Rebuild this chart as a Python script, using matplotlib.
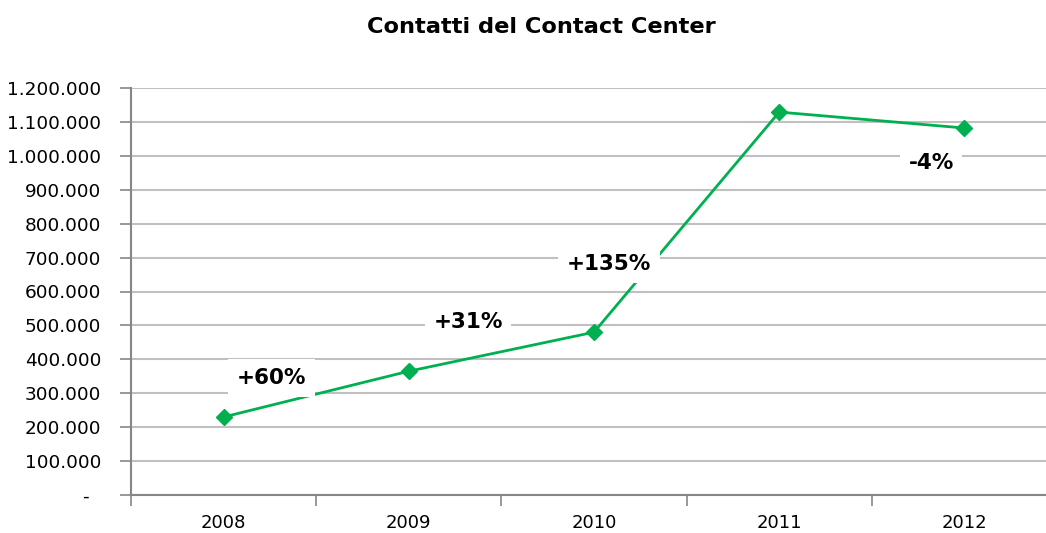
import matplotlib
matplotlib.use("Agg")
import matplotlib.pyplot as plt
from matplotlib.ticker import FuncFormatter, FixedLocator

years = ["2008", "2009", "2010", "2011", "2012"]
contacts = [230000, 365000, 480000, 1129000, 1082000]
growth_labels = ["+60%", "+31%", "+135%", "-4%"]
label_x = [0.26, 1.32, 2.08, 3.82]
label_y = [345000, 510000, 681000, 979000]

W, H = 1046, 533
fig = plt.figure(figsize=(W / 100, H / 100), dpi=100)
ax = fig.add_axes([131 / W, (H - 495) / H, (1057 - 131) / W, (495 - 88) / H])

x = list(range(len(years)))
ax.plot(x, contacts, color="#00B050", lw=2, marker="D", markersize=8.5, zorder=3, clip_on=False)

for lx, ly, t in zip(label_x, label_y, growth_labels):
    ax.text(lx, ly, t, ha="center", va="center", fontsize=15.5, fontweight="bold",
            family="DejaVu Sans", zorder=5,
            bbox=dict(boxstyle="square,pad=0.4", facecolor="white", edgecolor="none"))

ax.set_xlim(-0.5, 4.5)
ax.set_ylim(0, 1200000)
ax.set_yticks(range(0, 1200001, 100000))

def fmt(v, pos):
    if v == 0:
        return "-  "
    return f"{int(v):,}".replace(",", ".")

ax.yaxis.set_major_formatter(FuncFormatter(fmt))
ax.set_xticks(x)
ax.set_xticklabels(years)
ax.xaxis.set_minor_locator(FixedLocator([i - 0.5 for i in range(len(years) + 1)]))
ax.tick_params(axis="x", which="major", length=0, pad=14, labelsize=13)
ax.tick_params(axis="x", which="minor", length=8, width=1.2, color="#868686")
ax.tick_params(axis="y", length=8, width=1.2, color="#868686", labelsize=13.3, pad=13.5)

ax.grid(axis="y", color="#C0C0C0", lw=1.5, zorder=0)
ax.set_axisbelow(True)
for s in ["top", "right"]:
    ax.spines[s].set_visible(False)
for s in ["left", "bottom"]:
    ax.spines[s].set_color("#868686")
    ax.spines[s].set_linewidth(1.5)

fig.text(541 / W, 1 - 27 / H, "Contatti del Contact Center", ha="center", va="center",
         fontsize=16.2, fontweight="bold")

fig.savefig("out.png", dpi=100)
